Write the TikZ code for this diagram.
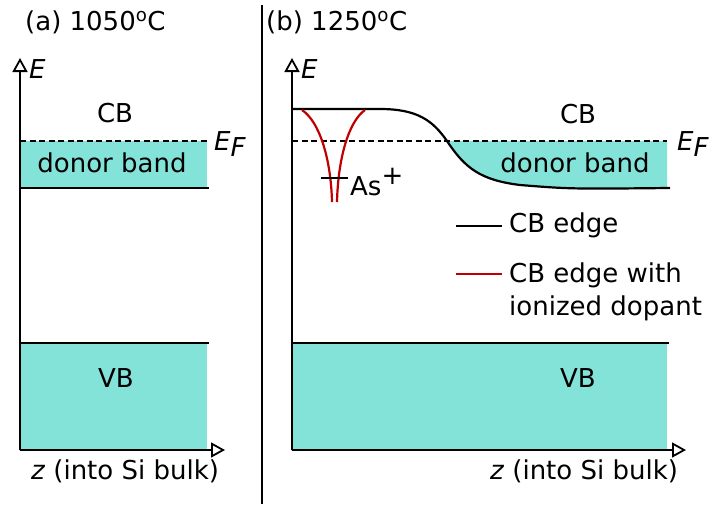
\documentclass[tikz,border=0pt]{standalone}
\usepackage{fontspec}
\setmainfont{DejaVu Sans}
\usetikzlibrary{arrows.meta}
\definecolor{band}{RGB}{132,227,216}
\definecolor{dred}{RGB}{192,0,0}
\tikzset{
  axis/.style={line width=2.2pt,-{Triangle[open,length=14pt,width=15pt,line width=1.8pt]}},
  edge/.style={line width=2.2pt},
  lbl/.style={inner sep=0pt,font=\fontsize{26}{33}\selectfont},
  efline/.style={line width=1.8pt,dash pattern=on 6pt off 3.5pt},
  redc/.style={line width=2.2pt,draw=dred}
}
\newcommand{\EF}{\textit{E}\raisebox{-0.45ex}{\textit{F}}}
\newcommand{\bigsup}[1]{\raisebox{0.75ex}{#1}}
\begin{document}
\begin{tikzpicture}[x=1pt,y=-1pt]
\useasboundingbox (0,0) rectangle (713,504);
% divider
\coordinate (d1) at (262,5); \coordinate (d2) at (262,504);
\draw[line width=1.8pt] (d1) -- (d2);
% ---------- panel (a)
\fill[band] (20,141) rectangle (207,188);
\fill[band] (20,343) rectangle (207,450);
\draw[efline] (20,141) -- (207,141);
\draw[edge] (20,188) -- (209,188);
\draw[edge] (20,343) -- (209,343);
\coordinate (ao) at (20,450); \coordinate (ay) at (20,58); \coordinate (ax) at (225,450);
\draw[axis] (ao) -- (ay);
\draw[axis] (ao) -- (ax);
\node[lbl,anchor=west] (ta) at (25,22) {(a) 1050\textsuperscript{o}C};
\node[lbl,anchor=west] (Ea) at (29,69) {\textit{E}};
\node[lbl] (CBa) at (115,113) {CB};
\node[lbl,anchor=west] (EFa) at (214,144) {\EF};
\node[lbl] (DBa) at (112,163) {donor band};
\node[lbl] (VBa) at (116,378) {VB};
\node[lbl] (za) at (125,471) {\textit{z} (into Si bulk)};
% ---------- panel (b)
\fill[band] (292,343) rectangle (667,450);
\fill[band] (447,141) .. controls (465,168) and (480,180) .. (520,185) .. controls (570,189) .. (667,188) -- (667,141) -- cycle;
\draw[efline] (292,141) -- (667,141);
\draw[edge] (292,109) -- (380,109) .. controls (418,109) and (433,121) .. (447,141) .. controls (465,168) and (480,180) .. (520,185) .. controls (570,189) .. (670,188);
\draw[edge] (292,343) -- (669,343);
\draw[redc] (302,110) .. controls (320,122) and (331,160) .. (332,202);
\draw[redc] (365,110) .. controls (348,122) and (338,160) .. (337,202);
\draw[edge] (321,178) -- (348,178);
\coordinate (bo) at (292,450); \coordinate (by) at (292,58); \coordinate (bx) at (686,450);
\draw[axis] (bo) -- (by);
\draw[axis] (bo) -- (bx);
\node[lbl,anchor=west] (tb) at (266,22) {(b) 1250\textsuperscript{o}C};
\node[lbl,anchor=west] (Eb) at (301,69) {\textit{E}};
\node[lbl] (CBb) at (578,114) {CB};
\node[lbl,anchor=west] (EFb) at (677,144) {\EF};
\node[lbl] (DBb) at (575,163) {donor band};
\node[lbl,anchor=west] (As) at (350,182) {As\bigsup{+}};
\node[lbl] (VBb) at (578,378) {VB};
\node[lbl] (zb) at (584,471) {\textit{z} (into Si bulk)};
% legend
\coordinate (l1a) at (456,226); \coordinate (l1b) at (502,226);
\draw[line width=1.8pt] (l1a) -- (l1b);
\node[lbl,anchor=west] (L1) at (509,225) {CB edge};
\coordinate (l2a) at (456,274); \coordinate (l2b) at (502,274);
\draw[line width=1.8pt,dred] (l2a) -- (l2b);
\node[lbl,anchor=west,align=left] (L2) at (509,292) {CB edge with\\ionized dopant};
\end{tikzpicture}
\end{document}
